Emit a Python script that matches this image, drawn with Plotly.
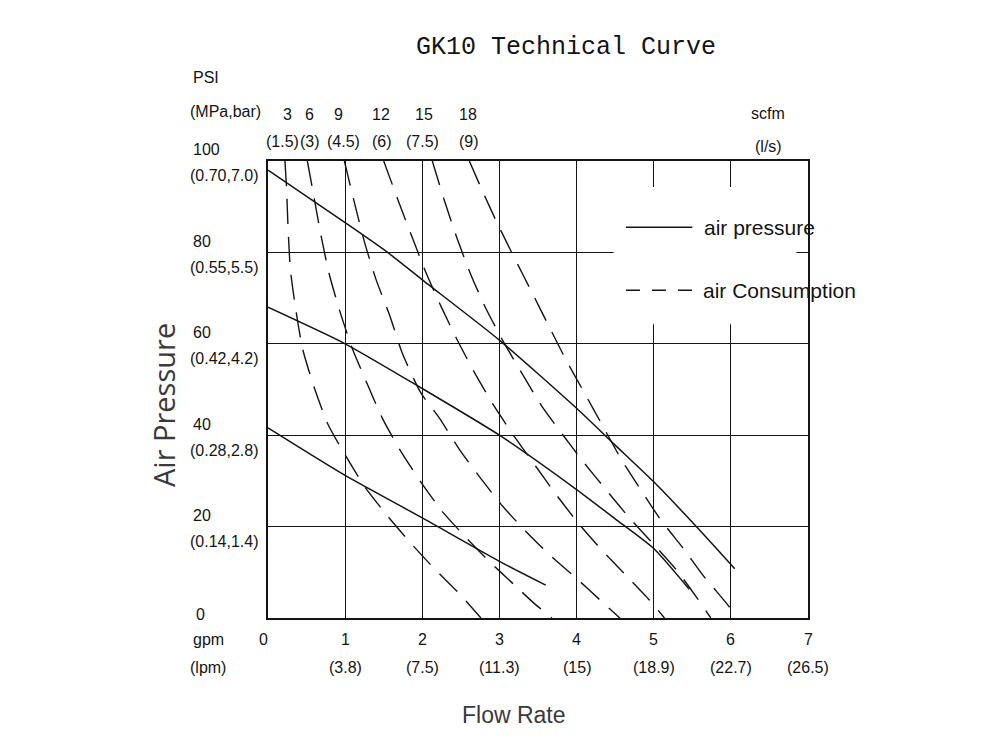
import plotly.graph_objects as go

# ============================================================
# DATA
# flow in gpm, pressure in psi
# ============================================================

# air pressure curves (solid)
p1_x = [0, 1, 1.55, 2, 3, 4, 4.49, 5, 5.57, 6.05]
p1_y = [98, 86.5, 80, 74, 60.8, 45.9, 38, 29.8, 19.7, 10.8]

p2_x = [0, 1, 2, 3, 4, 4.5, 5, 5.46]
p2_y = [68, 60, 50.2, 40, 28.1, 21.7, 15.2, 6.3]

p3_x = [0, 1, 2, 3, 3.6]
p3_y = [41.6, 31.2, 21.9, 12.4, 7.2]

# air consumption curves (dashed), 3/6/9/12/15/18 scfm
c3_x = [0.22, 0.24, 0.26, 0.29, 0.36, 0.45, 0.60, 0.78, 1.01, 1.25, 1.55, 1.85, 2.15, 2.47, 2.76]
c3_y = [100, 94.2, 85.4, 76.3, 67.5, 58.8, 50.4, 42.3, 35.4, 28.8, 22.3, 16.4, 10.9, 5.5, 0]

c6_x = [0.51, 0.59, 0.68, 0.79, 0.93, 1.09, 1.29, 1.48, 1.72, 1.98, 2.25, 2.56, 2.88, 3.19, 3.45, 3.68]
c6_y = [100, 92.7, 84.3, 75.5, 67.2, 59.1, 51.1, 43.8, 36.5, 29.8, 23.5, 17.7, 12.2, 7.3, 3.2, 0]

c9_x = [0.99, 1.12, 1.25, 1.40, 1.58, 1.74, 1.98, 2.22, 2.48, 2.76, 3.04, 3.34, 3.67, 3.99, 4.32, 4.56]
c9_y = [100, 90.9, 82.3, 74.1, 66.1, 58.0, 49.3, 43.8, 36.9, 30.5, 24.5, 19.0, 13.5, 8.8, 3.7, 0]

c12_x = [1.50, 1.68, 1.86, 2.04, 2.24, 2.46, 2.69, 2.93, 3.19, 3.47, 3.74, 4.02, 4.32, 4.63, 4.94, 5.14]
c12_y = [100, 91.7, 83.7, 75.9, 68.3, 60.6, 53.3, 46.4, 39.8, 33.2, 26.9, 20.8, 15.0, 9.5, 4.0, 0]

c15_x = [2.13, 2.28, 2.44, 2.62, 2.82, 3.06, 3.30, 3.54, 3.82, 4.10, 4.39, 4.68, 5.0, 5.31, 5.57, 5.74]
c15_y = [100, 91.7, 83.6, 75.5, 67.9, 60.2, 53.3, 46.6, 40.1, 33.9, 27.9, 22.0, 16.1, 10.2, 4.2, 0]

c18_x = [2.61, 2.77, 2.98, 3.20, 3.42, 3.64, 3.86, 4.10, 4.34, 4.57, 4.83, 5.09, 5.38, 5.65, 5.95, 6.09]
c18_y = [100, 93.8, 86.1, 78.6, 71.3, 63.9, 56.6, 49.3, 42.0, 35.0, 28.1, 21.5, 15.3, 9.1, 3.1, 0]

# tick labels
psi_ticks = [100, 80, 60, 40, 20, 0]
psi_sub = ["(0.70,7.0)", "(0.55,5.5)", "(0.42,4.2)", "(0.28,2.8)", "(0.14,1.4)", ""]
gpm_ticks = [0, 1, 2, 3, 4, 5, 6, 7]
lpm_sub = ["", "(3.8)", "(7.5)", "(11.3)", "(15)", "(18.9)", "(22.7)", "(26.5)"]
scfm_ticks = ["3", "6", "9", "12", "15", "18"]
ls_sub = ["(1.5)", "(3)", "(4.5)", "(6)", "(7.5)", "(9)"]

# ============================================================
# STYLE
# ============================================================

INK = "#141414"
SANS = "Liberation Sans, Arial, sans-serif"
OFF = 7  # page body margin pushes the svg a few px right/down
L, R, T, B = 267 - OFF, 193 + OFF, 160 - OFF, 133 + OFF
W, H = 1000, 750


def px(xp):
    return (xp - OFF - L) / (W - L - R)


def py(yp):
    return (H - B - (yp - OFF)) / (H - T - B)


fig = go.Figure()

for xs, ys in [(p1_x, p1_y), (p2_x, p2_y), (p3_x, p3_y)]:
    fig.add_trace(go.Scatter(
        x=xs, y=ys, mode="lines",
        line=dict(color=INK, width=1.5, shape="spline", smoothing=0.6),
        name="air pressure", showlegend=False, hoverinfo="skip"
    ))

for xs, ys in [(c3_x, c3_y), (c6_x, c6_y), (c9_x, c9_y),
               (c12_x, c12_y), (c15_x, c15_y), (c18_x, c18_y)]:
    fig.add_trace(go.Scatter(
        x=xs, y=ys, mode="lines",
        line=dict(color=INK, width=1.4, dash="25px,13px", shape="spline", smoothing=0.6),
        name="air Consumption", showlegend=False, hoverinfo="skip"
    ))

# white patch behind the legend (grid is broken there)
shapes = [
    dict(type="rect", xref="x", yref="y", x0=4.48, x1=6.85, y0=64.3, y1=94.3,
         fillcolor="white", line=dict(width=0), layer="between"),
    dict(type="line", xref="x", yref="y", x0=4.64, x1=5.50, y0=85.5, y1=85.5,
         line=dict(color=INK, width=1.5), layer="above"),
    dict(type="line", xref="x", yref="y", x0=4.64, x1=5.50, y0=71.7, y1=71.7,
         line=dict(color=INK, width=1.5, dash="14px,12px"), layer="above"),
]

ann = []


def txt(x, y, s, size=16, anchor="center", font=SANS, color=INK, angle=0):
    ann.append(dict(
        xref="paper", yref="paper", x=px(x), y=py(y), text=s, showarrow=False,
        xanchor=anchor, yanchor="middle", textangle=angle,
        font=dict(family=font, size=size, color=color)
    ))


# legend text
txt(701, 226, "air pressure", size=21, anchor="left")
txt(700, 289, "air Consumption", size=21, anchor="left")

# left axis labels
ph = H - T - B
txt(190, 76, "PSI", anchor="left")
txt(187, 110, "(MPa,bar)", anchor="left")
for v, s in zip(psi_ticks, psi_sub):
    yg = 160 + (100 - v) * ph / 100
    if s:
        txt(190, yg - 11, str(v), anchor="left")
        txt(187, yg + 15, s, anchor="left")
    else:
        txt(193, yg - 4, str(v), anchor="left")
txt(190, 638, "gpm", anchor="left")
txt(187, 666, "(lpm)", anchor="left")

# bottom axis labels
pw = W - L - R
for v, s in zip(gpm_ticks, lpm_sub):
    xg = 267 + v * pw / 7
    if s:
        txt(xg, 638, str(v))
        txt(xg, 666, s)
    else:
        txt(xg - 5, 638, str(v))

# top scfm labels
top_x = [286, 308, 337, 380, 423, 467]
sub_x = [281, 309, 342, 381, 421, 468]
for xa, xb, a, b in zip(top_x, sub_x, scfm_ticks, ls_sub):
    txt(xa, 113, a)
    txt(xb, 140, b)
txt(767, 112, "scfm")
txt(767, 145, "(l/s)")

# axis titles
txt(162, 404, "Air Pressure", size=29, font="Open Sans, sans-serif", color="#3a3a3a", angle=-90)
txt(513, 714, "Flow Rate", size=23, color="#3a3a3a")

fig.update_layout(
    title=dict(
        text="GK10 Technical Curve",
        x=(565 - OFF) / W, y=1 - (44 - OFF) / H, xanchor="center", yanchor="middle",
        font=dict(family="Liberation Mono, monospace", size=25, color=INK)
    ),
    width=W, height=H, autosize=False,
    margin=dict(l=L, r=R, t=T, b=B),
    paper_bgcolor="white", plot_bgcolor="white",
    showlegend=False,
    shapes=shapes,
    annotations=ann,
)

fig.update_xaxes(
    range=[0, 7], dtick=1, showgrid=True, gridcolor=INK, gridwidth=1.3,
    showline=True, mirror=True, linecolor=INK, linewidth=1.5,
    zeroline=False, showticklabels=False, ticks=""
)
fig.update_yaxes(
    range=[0, 100], dtick=20, showgrid=True, gridcolor=INK, gridwidth=1.3,
    showline=True, mirror=True, linecolor=INK, linewidth=1.5,
    zeroline=False, showticklabels=False, ticks=""
)

fig.write_html("out.html")
